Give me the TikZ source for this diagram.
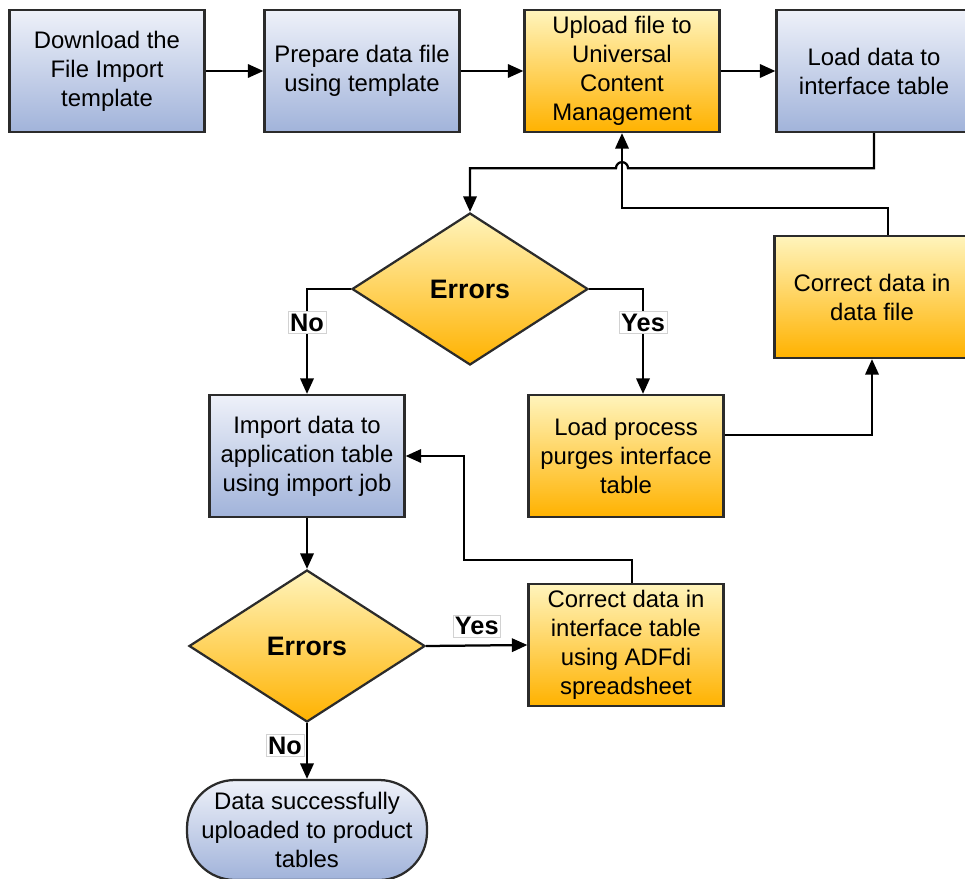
\documentclass[tikz,border=0pt]{standalone}
\usepackage{fontspec}
\setmainfont{Liberation Sans}
\usetikzlibrary{arrows.meta,shapes.geometric,calc}
\definecolor{bluetop}{HTML}{EEF1F9}
\definecolor{bluebot}{HTML}{A1B3DA}
\definecolor{orgtop}{HTML}{FFF4BC}
\definecolor{orgbot}{HTML}{FFB200}
\definecolor{edge}{HTML}{2B2B2B}
\begin{document}
\begin{tikzpicture}
[x=0.25mm,y=-0.25mm,>={Triangle[length=11pt,width=9.5pt]},line width=1.6pt,
 box/.style = {draw=edge, rectangle, align=center, minimum width=48.75mm, minimum height=30.5mm,
   inner sep=2pt, font=\fontsize{17}{20.6}\selectfont},
 bluebox/.style = {box, top color=bluetop, bottom color=bluebot},
 orgbox/.style = {box, top color=orgtop, bottom color=orgbot},
 decide/.style = {draw=edge, diamond, aspect=1.55, minimum width=59mm, minimum height=38mm, inner sep=0pt,
   top color=orgtop, bottom color=orgbot, font=\fontsize{19}{22}\selectfont\bfseries},
 finish/.style = {draw=edge, rectangle, rounded corners=12mm, align=center, minimum width=60mm, minimum height=25mm,
   inner sep=1pt, top color=bluetop, bottom color=bluebot, font=\fontsize{17}{20.6}\selectfont},
 lbl/.style = {fill=white, draw=gray!35, line width=0.4pt, inner sep=1.5pt, font=\fontsize{18}{20}\selectfont\bfseries},]

\useasboundingbox (0,0) rectangle (965,878);

\node (dl) at (107,71)[bluebox] {Download the\\File Import\\template};
\node (prep) at (362,71)[bluebox] {Prepare data file\\using template};
\node (upload) at (622,71)[orgbox] {Upload file to\\Universal\\Content\\Management};
\node (load) at (874,71)[bluebox] {Load data to\\interface table};
\node (err1) at (470,289)[decide] {Errors};
\node (fix1) at (872,297)[orgbox] {Correct data in\\data file};
\node (imp) at (307,456)[bluebox] {Import data to\\application table\\using import job};
\node (purge) at (626,456)[orgbox] {Load process\\purges interface\\table};
\node (err2) at (307,646)[decide] {Errors};
\node (fix2) at (626,645)[orgbox] {Correct data in\\interface table\\using ADFdi\\spreadsheet};
\node (done) at (307,830)[finish] {Data successfully\\uploaded to product\\tables};

\draw [->] (dl)--(prep);
\draw [->] (prep)--(upload);
\draw [->] (upload)--(load);
\draw [->] (load.south) |- ($(upload.south)+(6,35)$) arc[start angle=0,end angle=-180,radius=6] -| (err1.north);
\draw [->] ($(fix1.north)+(16,0)$) |- ($(upload.south)+(0,75)$) -- (upload.south);
\draw [->] (err1.west) -| node[lbl,pos=0.66] {No} (imp.north);
\draw [->] (err1.east) -| node[lbl,pos=0.66] {Yes} ($(purge.north)+(17,0)$);
\draw [->] ($(purge.east)+(0,-21)$) -| (fix1.south);
\draw [->] (imp)--(err2);
\draw [->] (err2.east) -- node[lbl,above=6pt] {Yes} (fix2.west);
\draw [->] ($(fix2.north)+(6,0)$) |- ($(imp.east)+(58,104)$) |- (imp.east);
\draw [->] (err2.south) -- node[lbl,pos=0.4,anchor=east,xshift=-2pt] {No} (done.north);

\end{tikzpicture}
\end{document}
